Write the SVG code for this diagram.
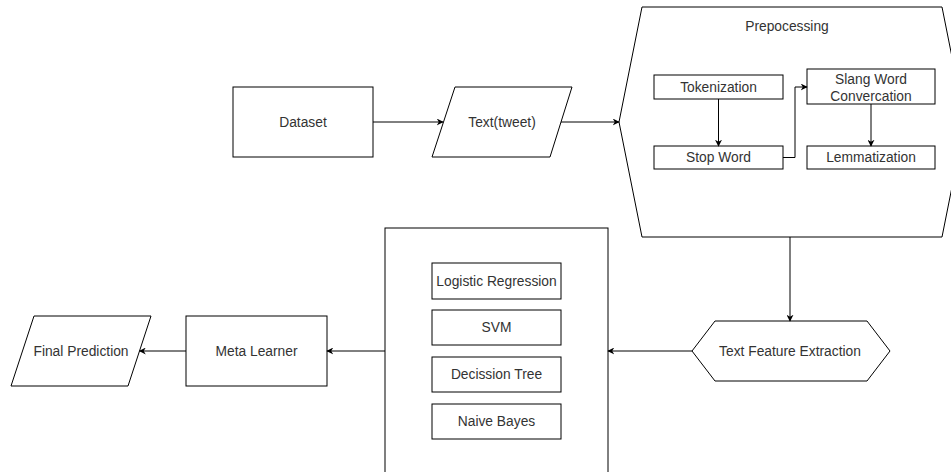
<svg xmlns="http://www.w3.org/2000/svg" width="951" height="472" viewBox="0 0 951 472">
<defs>
<marker id="arr" viewBox="0 0 10 10" refX="9" refY="5" markerWidth="7" markerHeight="7" orient="auto" markerUnits="userSpaceOnUse">
<path d="M0,0 L10,5 L0,10 L3,5 Z" fill="#000"/>
</marker>
<style>
.s{fill:#fff;stroke:#000;stroke-width:1;}
.t{font-family:"Liberation Sans",Arial,sans-serif;font-size:13.8px;fill:#333;text-anchor:middle;dominant-baseline:central;}
.c{fill:none;stroke:#000;stroke-width:1;marker-end:url(#arr);}
</style>
</defs>
<rect width="951" height="472" fill="#fff"/>
<g id="dataset"><rect class="s" x="233" y="87" width="140" height="70"/><text class="t" x="303" y="122">Dataset</text></g>
<g id="text-tweet"><polygon class="s" points="455,87 572,87 550,157 432,157"/><text class="t" x="502" y="122">Text(tweet)</text></g>
<g id="prepocessing"><polygon class="s" points="642,7 942,7 965,122 942,237 642,237 619,122"/><text class="t" x="787" y="26">Prepocessing</text></g>
<g id="tokenization"><rect class="s" x="654" y="75" width="129" height="24"/><text class="t" x="718.5" y="87">Tokenization</text></g>
<g id="stopword"><rect class="s" x="654" y="146" width="129" height="23"/><text class="t" x="718.5" y="157.5">Stop Word</text></g>
<g id="slang"><rect class="s" x="807" y="69" width="128" height="35"/><text class="t" x="871" y="79">Slang Word</text><text class="t" x="871" y="96">Convercation</text></g>
<g id="lemmatization"><rect class="s" x="807" y="146" width="128" height="23"/><text class="t" x="871" y="157.5">Lemmatization</text></g>
<g id="tfe"><polygon class="s" points="715,321 867,321 890,351 867,381 715,381 692,351"/><text class="t" x="790" y="351">Text Feature Extraction</text></g>
<g id="models"><rect class="s" x="385" y="228" width="223" height="260"/></g>
<g id="logreg"><rect class="s" x="432" y="263" width="129" height="36"/><text class="t" x="496.5" y="281">Logistic Regression</text></g>
<g id="svm"><rect class="s" x="432" y="310" width="129" height="35"/><text class="t" x="496.5" y="327.5">SVM</text></g>
<g id="dtree"><rect class="s" x="432" y="357" width="129" height="35"/><text class="t" x="496.5" y="374.5">Decission Tree</text></g>
<g id="nbayes"><rect class="s" x="432" y="404" width="129" height="35"/><text class="t" x="496.5" y="421.5">Naive Bayes</text></g>
<g id="meta"><rect class="s" x="186" y="316" width="141" height="70"/><text class="t" x="256.5" y="351">Meta Learner</text></g>
<g id="final"><polygon class="s" points="34,316 151,316 128,386 11,386"/><text class="t" x="81" y="351">Final Prediction</text></g>
<g id="connectors">
<path class="c" d="M373,122 L443,122"/>
<path class="c" d="M561,122 L619,122"/>
<path class="c" d="M718.5,99 L718.5,146"/>
<path class="c" d="M783,157.5 L795,157.5 L795,87 L807,87"/>
<path class="c" d="M871,104 L871,146"/>
<path class="c" d="M790,237 L790,321"/>
<path class="c" d="M692,351 L608,351"/>
<path class="c" d="M385,351 L327,351"/>
<path class="c" d="M186,351 L139.5,351"/>
</g>
</svg>
